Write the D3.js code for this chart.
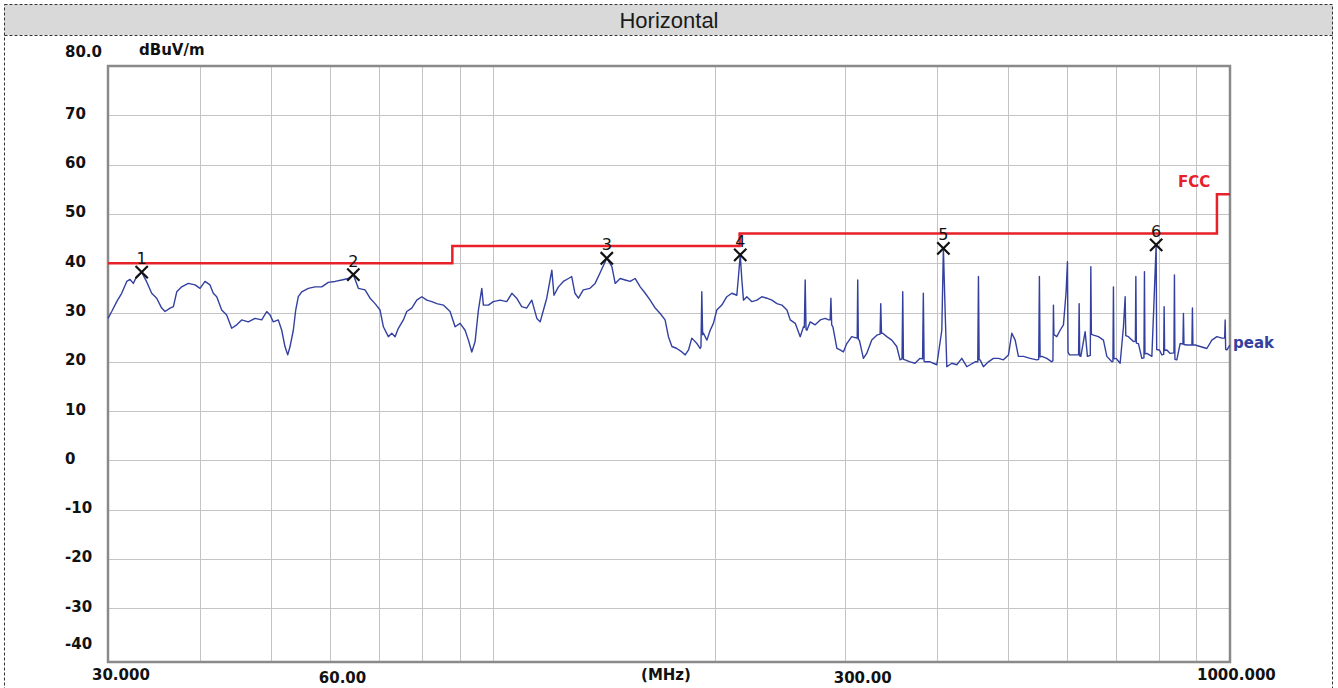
<!DOCTYPE html>
<html>
<head>
<meta charset="utf-8">
<script src="https://cdn.jsdelivr.net/npm/d3@7"></script>
<style>
body{margin:0;background:#fff}
svg{display:block}
</style>
</head>
<body>
<div id="chart"></div>
<script>
// level axis (dBuV/m)
var yTicks = [80,70,60,50,40,30,20,10,0,-10,-20,-30,-40];
var yTickText = ["80.0","70","60","50","40","30","20","10","0","-10","-20","-30","-40"];

// frequency axis (MHz)
var gridFreqs = [40,50,60,70,80,90,100,200,300,400,500,600,700,800,900];
var xTickFreqs = [30,60,300,1000];
var xTickText = ["30.000","60.00","300.00","1000.000"];

// FCC limit
var limitFreq  = [30,88,88,216,216,960,960,1000];
var limitLevel = [40,40,43.5,43.5,46,46,54,54];

// peak markers
var markerName  = ["1","2","3","4","5","6"];
var markerFreq  = [33.33,64.58,142.6,216.4,408.3,793.9];
var markerLevel = [38.2,37.7,41.0,41.7,43.0,43.7];

// peak trace
var traceFreq = [30.0,30.35,30.83,31.31,31.81,32.14,32.47,32.81,33.33,33.86,34.39,34.93,35.48,35.85,36.42,36.80,37.19,37.77,38.56,39.38,
  40.0,40.62,41.26,41.69,42.14,42.80,43.47,44.16,44.86,45.56,46.51,47.50,48.50,49.27,49.78,50.29,51.08,51.63,52.16,52.61,
  52.99,53.54,53.94,54.38,54.96,56.11,57.29,58.51,59.72,60.99,62.28,63.58,64.58,65.60,66.99,68.05,69.12,70.21,70.94,72.05,
  72.82,73.58,74.34,75.51,76.32,77.52,78.74,79.99,81.25,82.53,83.83,85.57,87.38,88.76,90.16,91.58,92.53,93.52,94.49,95.47,
  96.49,96.97,98.50,100.0,102.2,104.3,106.0,107.6,109.3,111.0,112.8,114.6,115.8,117.0,118.2,120.1,120.9,122.6,124.5,126.5,
  127.8,129.1,130.5,132.5,135.3,137.5,139.6,142.6,144.9,146.4,148.7,151.0,153.4,155.8,158.3,160.8,163.3,165.9,168.5,171.1,
  172.9,174.8,177.5,180.3,182.2,184.1,186.0,189.0,190.9,191.4,191.9,192.4,192.9,195.0,197.0,199.0,201.1,204.3,207.5,210.8,214.1,215.2,
  216.4,217.5,218.6,220.9,224.4,228.0,231.5,235.2,238.9,242.7,246.5,250.4,253.0,257.0,261.0,263.7,264.4,265.1,265.8,266.5,269.3,273.5,
  277.9,282.2,285.2,286.6,287.3,288.0,289.1,292.7,295.6,298.7,301.9,306.6,311.5,311.9,312.4,313.0,314.0,318.0,321.3,326.4,331.6,335.0,335.7,336.5,337.8,342.1,
  347.5,352.9,356.6,358.8,359.6,360.4,362.2,367.9,373.7,379.6,382.6,383.5,384.4,385.6,391.7,400.0,406.3,408.3,410.5,412.7,419.2,425.8,432.5,439.3,
  443.9,450.9,454.6,455.6,456.6,458.0,462.7,470.0,477.4,485.0,492.6,500.4,505.7,511.0,516.2,524.4,535.5,546.8,550.0,551.2,552.4,555.4,564.1,573.0,
  575.0,575.9,576.8,582.0,588.1,594.2,599.2,601.7,602.8,605.4,616.3,623.0,624.1,625.2,627.4,635.9,640.5,646.2,647.3,648.4,652.6,662.9,673.3,680.5,691.3,693.6,694.7,695.8,700.6,
  709.4,716.8,720.6,722.0,728.0,739.5,744.0,745.1,746.2,751.1,759.2,764.2,765.4,766.6,771.1,783.3,788.9,793.9,795.2,802.1,808.1,812.8,814.0,815.2,820.9,829.4,839.3,840.6,841.9,846.9,
  855.7,863.2,864.6,866.0,873.8,887.8,889.2,890.6,896.8,910.9,930.2,944.9,959.8,974.9,983.5,985.0,986.5,990.3,1000];
var traceLevel = [28.8,30.2,32.2,33.9,36.3,36.7,35.9,37.3,38.2,36.2,33.9,32.9,30.9,30.2,30.9,31.2,34.2,35.2,35.9,35.6,
  34.9,36.3,35.6,33.9,33.2,30.5,29.5,26.8,27.5,28.5,28.1,28.8,28.5,30.2,29.5,28.1,28.5,26.4,23.1,21.4,
  23.1,26.4,30.5,33.2,34.2,34.9,35.2,35.2,36.1,36.3,36.6,36.9,37.7,34.9,34.6,32.9,31.8,30.5,27.1,25.1,
  25.8,25.1,26.8,28.5,30.2,30.9,32.5,33.2,32.5,32.2,31.8,31.5,30.2,27.1,27.8,26.4,24.4,22.0,24.1,30.5,
  34.9,31.5,31.5,32.2,32.5,32.2,33.9,32.9,31.2,30.9,32.5,28.8,28.1,30.5,32.9,38.6,33.5,35.2,36.3,36.9,
  37.3,33.9,32.9,34.6,34.9,35.9,38.0,41.0,39.3,35.9,36.9,36.6,36.3,36.9,35.2,33.9,32.5,30.9,29.8,28.5,
  25.1,23.1,22.7,22.0,21.4,22.4,24.8,23.7,22.7,23.0,34.2,25.5,25.8,24.4,26.4,27.8,30.5,31.5,33.2,33.9,33.5,37.3,
  41.7,36.6,32.5,33.2,32.2,32.5,33.2,32.9,32.5,31.8,31.5,30.5,28.5,27.8,25.1,27.1,27.0,36.6,26.6,26.4,28.1,27.5,
  28.5,28.8,28.5,28.5,32.9,27.5,27.1,22.7,22.4,22.0,23.7,25.1,24.8,24.8,36.6,24.5,24.4,20.7,21.7,24.4,25.4,25.6,31.8,25.8,25.8,25.1,
  24.4,23.1,20.4,20.6,34.2,20.5,20.4,20.0,19.7,20.7,20.6,33.9,20.1,20.0,20.0,19.4,26.4,43.0,30.5,19.0,19.7,19.4,20.7,19.0,
  19.4,20.0,20.0,37.3,20.4,20.4,19.0,20.0,20.7,20.7,20.4,21.4,25.8,24.4,21.1,21.1,20.7,20.4,20.5,37.3,21.0,21.1,20.7,20.0,
  20.2,31.5,25.5,25.1,26.4,27.5,34.2,40.3,22.0,21.4,21.4,21.4,31.8,21.2,21.1,26.1,21.1,21.3,39.3,25.6,25.4,25.1,24.4,21.1,20.0,20.1,35.2,20.6,20.7,
  19.7,27.1,33.2,25.3,25.1,24.1,24.2,37.3,23.8,23.7,20.7,20.8,38.3,21.6,21.7,21.1,32.9,43.7,22.5,22.4,21.4,21.5,31.2,22.3,22.4,21.7,21.8,37.6,20.5,20.4,
  23.7,23.6,29.8,23.5,23.4,23.4,30.9,23.4,23.4,23.1,22.7,24.4,25.1,24.8,24.8,28.5,22.5,22.4,23.4];

(function(){
  var W = 1338, H = 688;
  var pl = 108, pr = 1230, pt = 66, pb = 662;
  var boldFont = "DejaVu Sans, Verdana, sans-serif";

  var svg = d3.select("#chart").append("svg")
    .attr("width", W)
    .attr("height", H);

  var x = d3.scaleLog().domain([30, 1000]).range([pl, pr]);
  var y = d3.scaleLinear().domain([-40, 80]).range([657.6, pt]);

  // outer frame + title band
  svg.append("rect")
    .attr("x", 4.5).attr("y", 4.5)
    .attr("width", 1328).attr("height", 30.5)
    .attr("fill", "#d9d9d9");
  svg.append("rect")
    .attr("x", 4.5).attr("y", 4.5)
    .attr("width", 1328).attr("height", 720)
    .attr("fill", "none")
    .attr("stroke", "#333")
    .attr("stroke-dasharray", "3,2");
  svg.append("line")
    .attr("x1", 4.5).attr("x2", 1332.5)
    .attr("y1", 35.5).attr("y2", 35.5)
    .attr("stroke", "#333")
    .attr("stroke-dasharray", "3,2");
  svg.append("text")
    .attr("x", 669).attr("y", 28)
    .attr("text-anchor", "middle")
    .attr("font-family", "Liberation Sans, Arial, sans-serif")
    .attr("font-size", 22)
    .attr("fill", "#1a1a1a")
    .text("Horizontal");

  // grid
  svg.selectAll(".hgrid")
    .data(yTicks.filter(function(d){ return d < 80 && d > -40; }))
    .enter().append("line")
    .attr("class", "hgrid")
    .attr("x1", pl).attr("x2", pr)
    .attr("y1", function(d){ return Math.round(y(d)) + 0.5; })
    .attr("y2", function(d){ return Math.round(y(d)) + 0.5; })
    .attr("stroke", "#c4c4c4");

  svg.selectAll(".vgrid")
    .data(gridFreqs)
    .enter().append("line")
    .attr("class", "vgrid")
    .attr("x1", function(d){ return Math.round(x(d)) + 0.5; })
    .attr("x2", function(d){ return Math.round(x(d)) + 0.5; })
    .attr("y1", pt).attr("y2", pb)
    .attr("stroke", "#c4c4c4");

  // plot frame
  svg.append("rect")
    .attr("x", pl).attr("y", pt)
    .attr("width", pr - pl).attr("height", pb - pt)
    .attr("fill", "none")
    .attr("stroke", "#8a8a8a")
    .attr("stroke-width", 2.5);

  var line = d3.line()
    .x(function(d){ return x(d[0]); })
    .y(function(d){ return y(d[1]); });

  // limit line
  var limitData = limitFreq.map(function(f, i){ return [f, limitLevel[i]]; });
  svg.append("path")
    .attr("d", line(limitData))
    .attr("fill", "none")
    .attr("stroke", "#e8202a")
    .attr("stroke-width", 2.5);

  // trace
  var traceData = traceFreq.map(function(f, i){ return [f, traceLevel[i]]; });
  svg.append("path")
    .attr("d", line(traceData))
    .attr("fill", "none")
    .attr("stroke", "#3340a0")
    .attr("stroke-width", 1.4)
    .attr("stroke-linejoin", "round");

  // markers
  var mk = svg.selectAll(".marker")
    .data(markerFreq)
    .enter().append("g")
    .attr("class", "marker")
    .attr("transform", function(d, i){ return "translate(" + x(d) + "," + y(markerLevel[i]) + ")"; });
  mk.append("path")
    .attr("d", d3.symbol().type(d3.symbolX).size(100))
    .attr("fill", "none")
    .attr("stroke", "#111")
    .attr("stroke-width", 2.2);
  mk.append("text")
    .attr("x", 0).attr("y", -8)
    .attr("text-anchor", "middle")
    .attr("font-family", "DejaVu Sans, sans-serif")
    .attr("font-size", 16)
    .attr("fill", "#111")
    .text(function(d, i){ return markerName[i]; });

  // axis labels
  svg.selectAll(".ylab")
    .data(yTicks)
    .enter().append("text")
    .attr("class", "ylab")
    .attr("x", 65)
    .attr("y", function(d){ return y(d) + ((d === 80 || d === -40) ? -14 : -2); })
    .attr("dy", "0.36em")
    .attr("font-family", boldFont)
    .attr("font-weight", "bold")
    .attr("font-size", 15)
    .attr("fill", "#111")
    .text(function(d, i){ return yTickText[i]; });

  svg.selectAll(".xlab")
    .data(xTickFreqs)
    .enter().append("text")
    .attr("class", "xlab")
    .attr("x", function(d){ return x(d) + (d === 1000 ? -33 : d === 30 ? -16 : -11); })
    .attr("y", function(d){ return (d === 30 || d === 1000) ? 680 : 683; })
    .attr("font-family", boldFont)
    .attr("font-weight", "bold")
    .attr("font-size", 15)
    .attr("fill", "#111")
    .text(function(d, i){ return xTickText[i]; });

  svg.append("text")
    .attr("x", 666).attr("y", 680)
    .attr("text-anchor", "middle")
    .attr("font-family", boldFont).attr("font-weight", "bold").attr("font-size", 15)
    .attr("fill", "#111")
    .text("(MHz)");

  svg.append("text")
    .attr("x", 139).attr("y", 55)
    .attr("font-family", boldFont).attr("font-weight", "bold").attr("font-size", 15)
    .attr("fill", "#111")
    .text("dBuV/m");

  svg.append("text")
    .attr("x", 1178).attr("y", 187)
    .attr("font-family", boldFont).attr("font-weight", "bold").attr("font-size", 15)
    .attr("fill", "#e8202a")
    .text("FCC");

  svg.append("text")
    .attr("x", 1233).attr("y", 348)
    .attr("font-family", boldFont).attr("font-weight", "bold").attr("font-size", 15)
    .attr("fill", "#3340a0")
    .text("peak");
})();
</script>
</body>
</html>
